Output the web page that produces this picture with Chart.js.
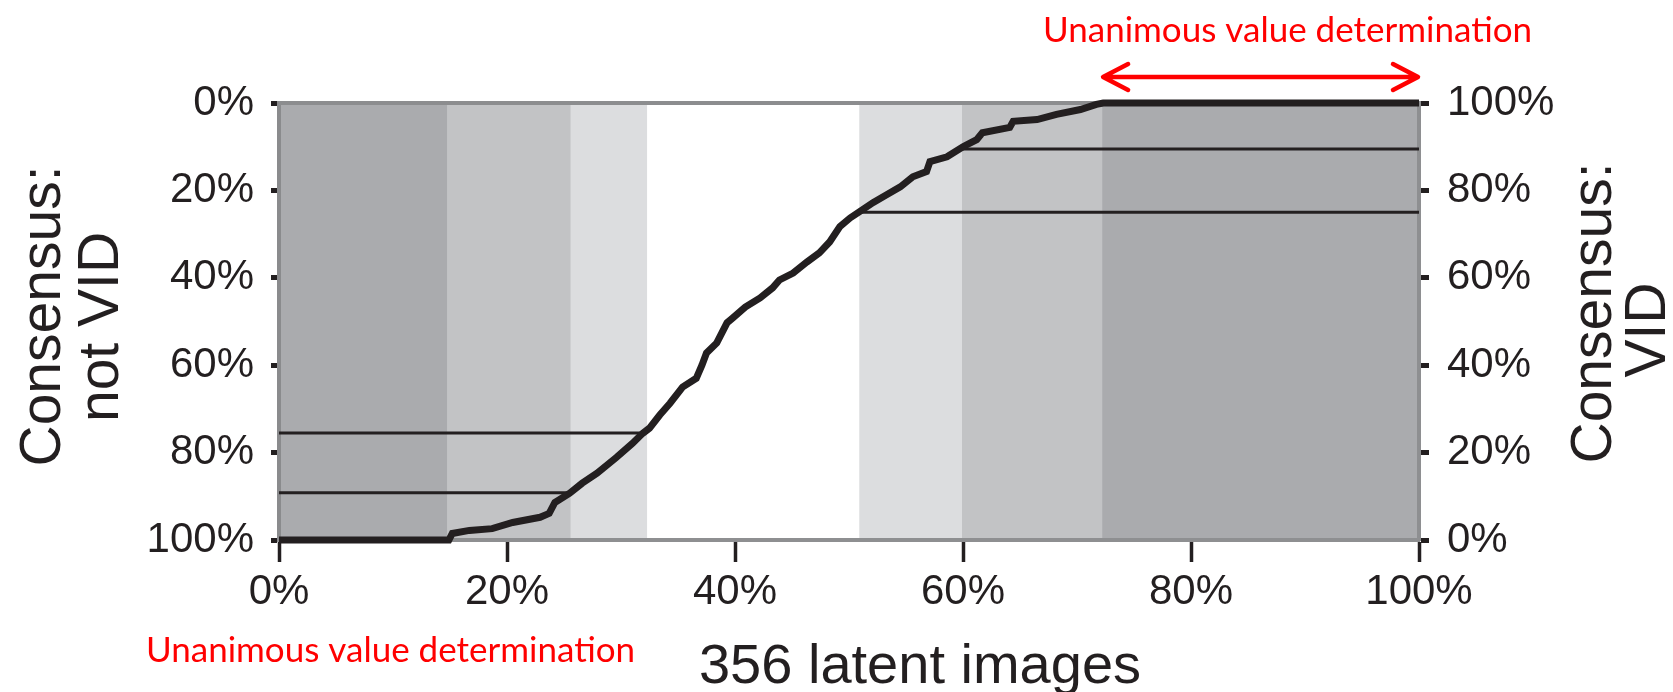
<!DOCTYPE html>
<html>
<head>
<meta charset="utf-8">
<script src="https://cdn.jsdelivr.net/npm/chart.js@4.4.1/dist/chart.umd.min.js"></script>
<style>
  html, body { margin: 0; padding: 0; background: #fff; }
  #wrap { width: 1673px; height: 692px; }
</style>
</head>
<body>
<div id="wrap"><canvas id="chart" width="1673" height="692"></canvas></div>
<script>
// x: share of the 356 latent images (%), y: share of examiners answering "not VID" (%)
const curveX = [0, 14.9, 15.2, 16.7, 18.7, 20.5, 22.9, 23.7, 24.2, 25.5, 26.6, 27.9, 29.6, 31.0, 31.9, 32.5,
  33.4, 34.3, 35.4, 36.6, 37.1, 37.5, 38.4, 39.3, 39.8, 40.9, 42.2, 43.3, 43.9, 45.1, 46.3, 47.4, 48.3,
  49.2, 50.1, 50.9, 52.1, 53.3, 54.5, 55.6, 56.8, 57.1, 58.6, 60.0, 61.2, 61.7, 64.1, 64.4, 66.5, 68.2,
  70.3, 71.7, 72.3, 100];
const curveY = [100, 100, 98.5, 97.8, 97.4, 96, 94.8, 93.9, 91.4, 89.3, 87, 84.7, 81.1, 77.9, 75.6, 74.4,
  71.4, 68.7, 65, 63, 60, 57.2, 54.9, 50.3, 49.2, 46.7, 44.6, 42.3, 40.5, 38.9, 36.4, 34.3, 31.8,
  28.3, 26.3, 24.9, 22.8, 21, 19.2, 16.9, 15.7, 13.4, 12.3, 10, 8.4, 6.8, 5.6, 4.2, 3.8, 2.6,
  1.5, 0.3, 0, 0];

const xTicks = [0, 20, 40, 60, 80, 100];
const yTicks = [0, 20, 40, 60, 80, 100];

// grey bands behind the curve
const bandEdges = [0, 14.8, 25.6, 32.3, 50.9, 59.9, 72.2, 100];
const bandColors = ['#aaabae', '#c2c3c5', '#dcdddf', '#ffffff', '#dcdddf', '#c2c3c5', '#aaabae'];

// horizontal reference lines (left ones read on left axis, right ones on right axis)
const leftRefLevels = [75.5, 89.2];
const leftRefEnds = [31.9, 25.5];
const rightRefLevels = [75, 89.5];
const rightRefStarts = [50.9, 60.0];

const unanimousRange = [72.2, 100];
const noteText = 'Unanimous value determination';
const xTitle = '356 latent images';

const INK = '#231f20';
const AXIS_FONT = 'Liberation Sans, Arial, sans-serif';

const datasets = [{
  label: 'curve',
  data: curveX.map((x, i) => ({ x, y: curveY[i] })),
  borderColor: INK,
  borderWidth: 7,
  pointRadius: 0,
  tension: 0,
  clip: false,
  yAxisID: 'y'
}];
leftRefLevels.forEach((lvl, i) => {
  datasets.push({
    label: 'left ref ' + i,
    data: [{ x: 0, y: lvl }, { x: leftRefEnds[i], y: lvl }],
    borderColor: INK, borderWidth: 3, pointRadius: 0, yAxisID: 'y'
  });
});
rightRefLevels.forEach((lvl, i) => {
  datasets.push({
    label: 'right ref ' + i,
    data: [{ x: rightRefStarts[i], y: lvl }, { x: 100, y: lvl }],
    borderColor: INK, borderWidth: 3, pointRadius: 0, yAxisID: 'y2'
  });
});

const bandsPlugin = {
  id: 'bands',
  beforeDraw(chart) {
    const { ctx, chartArea: a, scales: { x } } = chart;
    ctx.save();
    for (let i = 0; i < bandColors.length; i++) {
      const x0 = x.getPixelForValue(bandEdges[i]);
      const x1 = x.getPixelForValue(bandEdges[i + 1]);
      ctx.fillStyle = bandColors[i];
      ctx.fillRect(x0, a.top, x1 - x0, a.bottom - a.top);
    }
    ctx.restore();
  },
  beforeDatasetsDraw(chart) {
    const { ctx, chartArea: a } = chart;
    ctx.save();
    ctx.strokeStyle = '#8c8d8f';
    ctx.lineWidth = 4;
    ctx.beginPath();
    ctx.moveTo(a.left, a.top);
    ctx.lineTo(a.right, a.top);
    ctx.stroke();
    ctx.restore();
  }
};

// rotated axis titles, reading bottom to top
function drawVertical(ctx, lines, baselines, centers) {
  ctx.save();
  ctx.font = '57px ' + AXIS_FONT;
  ctx.fillStyle = INK;
  ctx.textAlign = 'center';
  ctx.textBaseline = 'alphabetic';
  lines.forEach((t, i) => {
    ctx.save();
    ctx.translate(baselines[i], centers[i]);
    ctx.rotate(-Math.PI / 2);
    ctx.fillText(t, 0, 0);
    ctx.restore();
  });
  ctx.restore();
}

const notesPlugin = {
  id: 'notes',
  afterDraw(chart) {
    const { ctx, scales: { x } } = chart;
    drawVertical(ctx, ['Consensus:', 'not VID'], [60, 118], [316, 327]);
    drawVertical(ctx, ['Consensus:', 'VID'], [1611, 1665], [313, 330]);

    ctx.save();
    ctx.fillStyle = INK;
    ctx.font = '56px ' + AXIS_FONT;
    ctx.textAlign = 'center';
    ctx.textBaseline = 'alphabetic';
    ctx.fillText(xTitle, 920, 683);
    ctx.restore();

    // red notes
    ctx.save();
    ctx.fillStyle = '#ff0000';
    ctx.font = '35px Lato, sans-serif';
    ctx.textAlign = 'left';
    ctx.textBaseline = 'alphabetic';
    ctx.fillText(noteText, 1043, 42);
    ctx.fillText(noteText, 146, 662);

    const x0 = x.getPixelForValue(unanimousRange[0]);
    const x1 = x.getPixelForValue(unanimousRange[1]);
    const ay = 77;
    ctx.strokeStyle = '#ff0000';
    ctx.lineWidth = 4.5;
    ctx.lineCap = 'round';
    ctx.lineJoin = 'round';
    ctx.beginPath();
    ctx.moveTo(x0 + 2, ay); ctx.lineTo(x1 - 2, ay);
    ctx.moveTo(x0 + 26, ay - 13); ctx.lineTo(x0 + 1, ay); ctx.lineTo(x0 + 26, ay + 13);
    ctx.moveTo(x1 - 26, ay - 13); ctx.lineTo(x1 - 1, ay); ctx.lineTo(x1 - 26, ay + 13);
    ctx.stroke();
    ctx.restore();
  }
};

const pct = v => v + '%';

new Chart(document.getElementById('chart'), {
  type: 'line',
  data: { datasets },
  plugins: [bandsPlugin, notesPlugin],
  options: {
    responsive: false,
    animation: false,
    layout: { padding: { top: 103, left: 0, right: 0, bottom: 0 } },
    plugins: { legend: { display: false }, tooltip: { enabled: false } },
    scales: {
      x: {
        type: 'linear', min: 0, max: 100,
        afterBuildTicks: s => { s.ticks = xTicks.map(v => ({ value: v })); },
        afterFit: s => { s.height = 152; },
        ticks: { callback: pct, color: INK, font: { family: AXIS_FONT, size: 42 }, padding: 5, maxRotation: 0 },
        grid: { drawOnChartArea: false, tickLength: 22, tickWidth: 3.5, tickColor: INK },
        border: { color: '#8e8f91', width: 4 }
      },
      y: {
        type: 'linear', position: 'left', min: 0, max: 100, reverse: true,
        afterBuildTicks: s => { s.ticks = yTicks.map(v => ({ value: v })); },
        afterFit: s => { s.width = 279; },
        ticks: { callback: pct, color: INK, font: { family: AXIS_FONT, size: 42 }, padding: 17 },
        grid: { drawOnChartArea: false, tickLength: 8, tickWidth: 5, tickColor: INK },
        border: { color: '#8a8b8d', width: 4 }
      },
      y2: {
        type: 'linear', position: 'right', min: 0, max: 100,
        afterBuildTicks: s => { s.ticks = yTicks.map(v => ({ value: v })); },
        afterFit: s => { s.width = 254; },
        ticks: { callback: pct, color: INK, font: { family: AXIS_FONT, size: 42 }, padding: 18 },
        grid: { drawOnChartArea: false, tickLength: 10, tickWidth: 5, tickColor: INK },
        border: { color: '#8e8f91', width: 4 }
      }
    }
  }
});
</script>
</body>
</html>
